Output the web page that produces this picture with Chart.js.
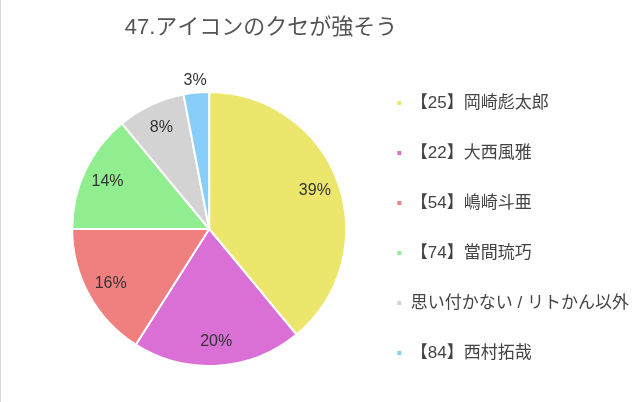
<!DOCTYPE html>
<html>
<head>
<meta charset="utf-8">
<script src="https://cdn.jsdelivr.net/npm/chart.js@4.4.0/dist/chart.umd.min.js"></script>
<style>
  html, body { margin: 0; padding: 0; background: #ffffff; }
  #wrap { position: relative; width: 640px; height: 402px; }
  #edge { position: absolute; left: 0; top: 0; width: 1px; height: 402px; background: #d8d8d8; }
  canvas { display: block; }
</style>
</head>
<body>
<div id="wrap">
  <canvas id="c" width="640" height="402"></canvas>
  <div id="edge"></div>
</div>
<script>
const chartTitle = '47.アイコンのクセが強そう';
const categories = ['【25】岡崎彪太郎', '【22】大西風雅', '【54】嶋崎斗亜', '【74】當間琉巧', '思い付かない / リトかん以外', '【84】西村拓哉'];
const values = [39, 20, 16, 14, 8, 3];
const colors = ['#ECE66C', '#DA70D6', '#F08080', '#90EE90', '#D3D3D3', '#87CEFA'];

const fontFamily = '"Liberation Sans", "Noto Sans CJK JP", sans-serif';

// Title drawn over the pie+legend block (the reference centres it at x≈261)
const offsetTitle = {
  id: 'offsetTitle',
  afterDraw(chart) {
    const ctx = chart.ctx;
    ctx.save();
    ctx.font = '22px ' + fontFamily;
    ctx.fillStyle = '#555555';
    ctx.textAlign = 'center';
    ctx.textBaseline = 'middle';
    ctx.fillText(chartTitle, 261, 28);
    ctx.restore();
  }
};

const pctLabels = {
  id: 'pctLabels',
  afterDatasetsDraw(chart) {
    const ctx = chart.ctx;
    const meta = chart.getDatasetMeta(0);
    const data = chart.data.datasets[0].data;
    const total = data.reduce((a, b) => a + b, 0);
    ctx.save();
    ctx.font = '16px ' + fontFamily;
    ctx.fillStyle = '#333333';
    ctx.textAlign = 'center';
    ctx.textBaseline = 'middle';
    meta.data.forEach((arc, i) => {
      const p = arc.getProps(['x', 'y', 'startAngle', 'endAngle', 'outerRadius'], true);
      const frac = data[i] / total;
      const mid = (p.startAngle + p.endAngle) / 2;
      const d = frac < 0.05 ? p.outerRadius * 1.09 : p.outerRadius * 0.82;
      const tx = p.x + Math.cos(mid) * d;
      const ty = p.y + Math.sin(mid) * d;
      ctx.fillText(Math.round(frac * 100) + '%', tx, ty);
    });
    ctx.restore();
  }
};

new Chart(document.getElementById('c'), {
  type: 'pie',
  data: {
    labels: categories,
    datasets: [{
      data: values,
      backgroundColor: colors,
      borderColor: '#ffffff',
      borderWidth: 2
    }]
  },
  options: {
    responsive: false,
    animation: false,
    events: [],
    radius: 137,
    layout: { padding: { left: 55, right: 1, top: 61.5, bottom: 5.5 } },
    plugins: {
      title: { display: false },
      legend: {
        position: 'right',
        align: 'start',
        labels: {
          boxWidth: 6,
          boxHeight: 6,
          padding: 33,
          color: '#444444',
          font: { family: fontFamily, size: 17 }
        }
      },
      tooltip: { enabled: false }
    }
  },
  plugins: [pctLabels, offsetTitle]
});
</script>
</body>
</html>
